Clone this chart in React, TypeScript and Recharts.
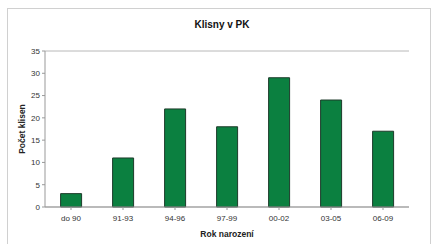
import React from "react";
import { BarChart, Bar, XAxis, YAxis, CartesianGrid, Label } from "recharts";

const categories = ["do 90", "91-93", "94-96", "97-99", "00-02", "03-05", "06-09"];
const counts = [3, 11, 22, 18, 29, 24, 17];
const yTicks = [0, 5, 10, 15, 20, 25, 30, 35];

const data = categories.map((c, i) => ({ name: c, value: counts[i] }));

const font = "'Liberation Sans', Arial, sans-serif";

export default function App() {
  return (
    <div style={{ position: "absolute", left: 0, top: 0, width: 434, height: 244, background: "#fff", fontFamily: font }}>
      <div style={{ position: "absolute", left: 7, top: 8, width: 424, height: 240, border: "1px solid #d0d0d0", boxSizing: "border-box" }} />
      <div style={{ position: "absolute", left: 0, top: 19, width: 444, textAlign: "center", fontSize: 10, fontWeight: "bold", color: "#111" }}>
        Klisny v PK
      </div>
      <div style={{ position: "absolute", left: 0, top: 0 }}>
        <BarChart
          width={434}
          height={244}
          data={data}
          margin={{ top: 51, right: 25, bottom: 7, left: 0 }}
          barCategoryGap="30%"
        >
          <CartesianGrid vertical={false} stroke="#b8b8b8" strokeWidth={1} />
          <XAxis
            dataKey="name"
            tick={{ fontSize: 8, fill: "#333", fontFamily: font }}
            tickLine={{ stroke: "#999" }}
            tickSize={3}
            tickMargin={5}
            axisLine={{ stroke: "#999" }}
            height={30}
            interval={0}
          >
            <Label value="Rok narození" position="insideBottom" offset={0} style={{ fontSize: 8.5, fontWeight: "bold", fill: "#222", fontFamily: font }} />
          </XAxis>
          <YAxis
            yAxisId="l"
            domain={[0, 35]}
            ticks={yTicks}
            interval={0}
            width={45}
            tick={{ fontSize: 8, fill: "#333", fontFamily: font }}
            tickLine={{ stroke: "#999" }}
            tickSize={3}
            axisLine={{ stroke: "#999" }}
          >
            <Label value="Počet klisen" angle={-90} position="insideLeft" offset={22} style={{ fontSize: 8.5, fontWeight: "bold", fill: "#222", textAnchor: "middle", fontFamily: font }} />
          </YAxis>
          <YAxis yAxisId="r" orientation="right" width={0} tick={false} tickLine={false} axisLine={{ stroke: "#999" }} domain={[0, 35]} />
          <Bar yAxisId="l" dataKey="value" fill="#0b8040" stroke="#1d3b2a" strokeWidth={1} isAnimationActive={false} />
        </BarChart>
      </div>
    </div>
  );
}
